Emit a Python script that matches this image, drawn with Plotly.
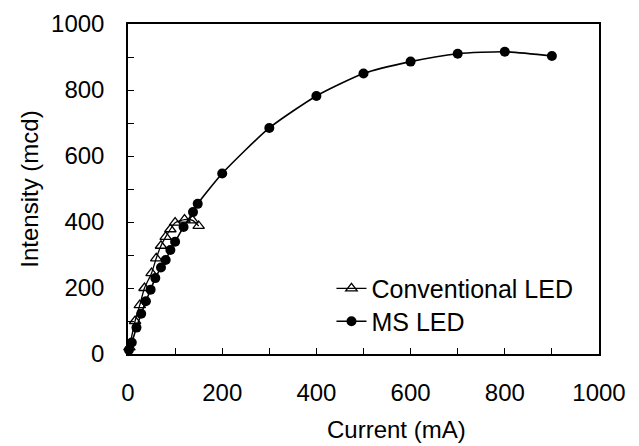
import plotly.graph_objects as go

conv_x = [3, 15, 25, 35, 50, 60, 70, 80, 90, 100, 120, 137, 150]
conv_y = [20, 100, 148, 200, 245, 290, 328, 355, 378, 398, 407, 405, 388]

ms_x = [2, 8, 18, 28, 38, 48, 58, 70, 80, 90, 100, 118, 138, 148, 200, 300, 400, 500, 600, 700, 800, 900]
ms_y = [12, 35, 80, 122, 160, 195, 230, 262, 285, 315, 340, 385, 430, 455, 547, 685, 782, 850, 886, 910, 916, 903]

x_ticks = [0, 200, 400, 600, 800, 1000]
y_ticks = [0, 200, 400, 600, 800, 1000]

x_title = "Current (mA)"
y_title = "Intensity (mcd)"

font = "Liberation Sans, Arial, sans-serif"

fig = go.Figure()
fig.add_trace(go.Scatter(
    x=conv_x, y=conv_y, name="Conventional LED", mode="lines+markers",
    line=dict(color="black", width=1.3, shape="spline", smoothing=0.6),
    marker=dict(symbol="triangle-up-open", size=10, color="black", line=dict(width=1.3, color="black")),
    cliponaxis=False, legend="legend",
))
fig.add_trace(go.Scatter(
    x=ms_x, y=ms_y, name="MS LED", mode="lines+markers",
    line=dict(color="black", width=1.6, shape="spline", smoothing=0.6),
    marker=dict(symbol="circle", size=10, color="black"),
    cliponaxis=False, legend="legend2",
))

axis_common = dict(
    showline=True, linecolor="black", linewidth=1.5, mirror=True,
    ticks="inside", ticklen=6, tickwidth=1, tickcolor="black",
    showgrid=False, zeroline=False,
    tickfont=dict(family=font, size=24, color="black"),
    minor=dict(ticks="inside", ticklen=6, tickwidth=1, tickcolor="black", dtick=100, showgrid=False),
)

fig.update_xaxes(range=[0, 1000], tickvals=x_ticks, ticklabelstandoff=16, **axis_common)
fig.update_yaxes(range=[0, 1000], tickvals=y_ticks, ticklabelstandoff=17,
                 title=dict(text=y_title, font=dict(family=font, size=24, color="black"), standoff=6),
                 **axis_common)

fig.add_annotation(text=x_title, xref="paper", yref="paper", x=0.571, y=-0.23,
                   xanchor="center", yanchor="middle", showarrow=False,
                   font=dict(family=font, size=24, color="black"))

legend_common = dict(xanchor="left", yanchor="top", bgcolor="rgba(0,0,0,0)",
                     font=dict(family=font, size=25, color="black"), itemsizing="trace")

# The page body adds an 8px offset, so the figure is 8px smaller and margins compensate.
fig.update_layout(
    width=631, height=438,
    margin=dict(l=120, r=40, t=16, b=92, autoexpand=False),
    plot_bgcolor="white", paper_bgcolor="white",
    font=dict(family=font, size=24, color="black"),
    legend=dict(x=0.432, y=0.268, **legend_common),
    legend2=dict(x=0.432, y=0.168, **legend_common),
    showlegend=True,
)

fig.write_html("out.html")
